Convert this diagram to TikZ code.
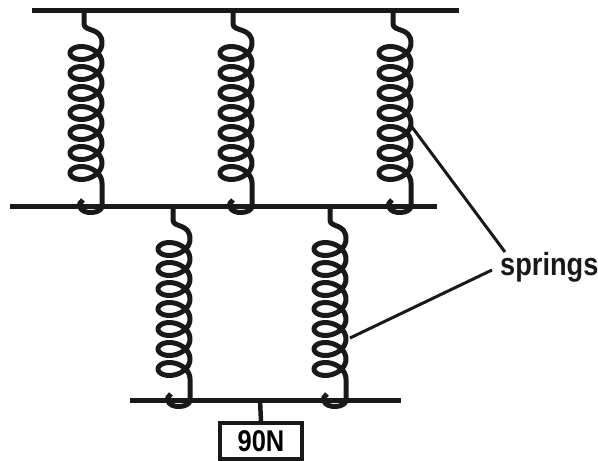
\documentclass[tikz,border=0pt]{standalone}
\usepackage{fontspec}
\newfontfamily\labelfont[FakeStretch=0.85]{Liberation Sans}
\tikzset{
  bar/.style={line width=5pt, color=black!90},
  wire/.style={line width=5pt, color=black!90, line join=round},
  leader/.style={line width=3pt, color=black!90},
  weightbox/.style={draw=black!90, line width=3.5pt, minimum width=82pt, minimum height=36pt, inner sep=0pt,
    font=\labelfont\bfseries\fontsize{30}{30}\selectfont},
  tag/.style={inner sep=0pt, anchor=base west, font=\labelfont\bfseries\fontsize{32}{32}\selectfont, text=black!90}
}
% coil spring: #1 top stem x, #2 lower stem x, #3 upper bar y, #4 lower bar y
\newcommand\coilspring[4]{%
  \pgfmathsetmacro\cx{#2-16}%
  \pgfmathsetmacro\yo{#3+33}%
  \draw[wire] (#1,#3) -- (#1,#3+14)
    .. controls (#1,#3+22) and (#2,\yo-16) .. (#2,\yo)
    -- plot[domain=0:2520, samples=360, smooth] ({\cx+16*cos(\x)}, {\yo+\x/18+11*sin(\x)})
    -- (#2,#4)
    .. controls (#2,#4+8) and (#2-20,#4+9) .. (#2-22,#4+1)
    .. controls (#2-23,#4-2) .. (#2-19,#4-6);
}
\begin{document}
\begin{tikzpicture}[x=1pt, y=-1pt]
  \useasboundingbox (0,0) rectangle (598,461);
  % bars
  \draw[bar] (32,10) -- (459,10);
  \draw[bar] (10,206) -- (437,206);
  \draw[bar] (130,400) -- (401,400);
  % upper row of springs
  \coilspring{84}{102}{10}{206}
  \coilspring{233}{252}{10}{206}
  \coilspring{393}{411}{10}{206}
  % lower row of springs
  \coilspring{173}{190}{206}{400}
  \coilspring{330}{346}{206}{400}
  % load
  \coordinate (hang) at (260,400);
  \node[weightbox] (load) at (261,441) {90N};
  \draw[wire, line width=4.5pt] (hang) -- (load.north);
  % label with leaders
  \node[tag] (lbl) at (500,275) {springs};
  \coordinate (s3) at (412,127);
  \coordinate (s5) at (350,338);
  \draw[leader] (505,252) -- (s3);
  \draw[leader] (492,270) -- (s5);
\end{tikzpicture}
\end{document}
